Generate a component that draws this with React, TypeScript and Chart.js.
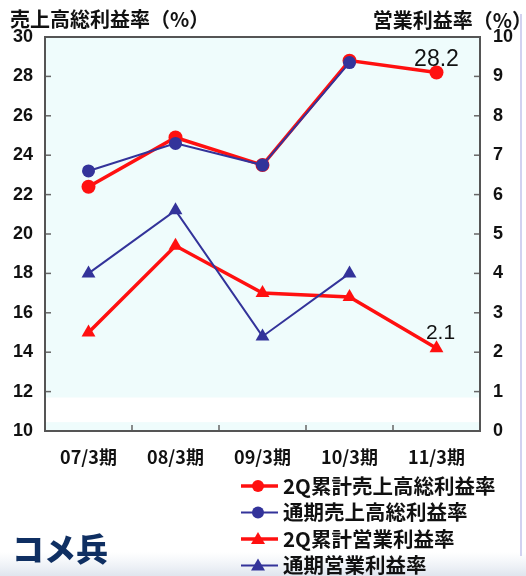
import React, { useEffect, useRef } from "react";
import { Chart, registerables } from "chart.js";

Chart.register(...registerables);

const categories = ["07/3期", "08/3期", "09/3期", "10/3期", "11/3期"];
const gross2Q = [22.4, 24.9, 23.5, 28.8, 28.2];
const grossFull = [23.2, 24.6, 23.5, 28.7, null];
const op2Q = [2.5, 4.7, 3.5, 3.4, 2.1];
const opFull = [4.0, 5.6, 2.4, 4.0, null];
const seriesNames = ["2Q累計売上高総利益率", "通期売上高総利益率", "2Q累計営業利益率", "通期営業利益率"];
const leftTitle = "売上高総利益率（%）";
const rightTitle = "営業利益率（%）";
const logoText = "コメ兵";

const RED = "#ff1010";
const BLUE = "#33339a";
const JP = '"Noto Sans CJK JP", "Noto Sans", sans-serif';
const NUM = '"Liberation Sans", Arial, sans-serif';

const decorPlugin = {
  id: "decor",
  beforeDraw(chart: any) {
    const { ctx, chartArea: a, scales } = chart;
    ctx.save();
    ctx.fillStyle = "#ffffff";
    ctx.fillRect(0, 0, chart.width, chart.height);
    const g = ctx.createLinearGradient(0, 552, 0, 576);
    g.addColorStop(0, "rgba(230,236,244,0)");
    g.addColorStop(1, "#dfe5ee");
    ctx.fillStyle = g;
    ctx.fillRect(0, 552, chart.width, 24);
    ctx.fillStyle = "#effcfc";
    ctx.fillRect(a.left, a.top, a.right - a.left, a.bottom - a.top);
    // white stripe artifact near bottom of plot
    const s0 = scales.y.getPixelForValue(11.7);
    const s1 = scales.y.getPixelForValue(10.45);
    ctx.fillStyle = "#ffffff";
    ctx.fillRect(a.left, s0, a.right - a.left, s1 - s0);
    ctx.strokeStyle = "#d2d2f0";
    ctx.lineWidth = 2;
    ctx.beginPath();
    ctx.moveTo(521, 14);
    ctx.lineTo(521, 556);
    ctx.stroke();
    ctx.restore();
  },
  beforeDatasetsDraw(chart: any) {
    const { ctx, chartArea: a, scales } = chart;
    ctx.save();
    ctx.strokeStyle = "#666";
    ctx.lineWidth = 1.5;
    const y = scales.y;
    y.ticks.forEach((_t: any, i: number) => {
      const p = y.getPixelForTick(i);
      if (p <= a.top + 1 || p >= a.bottom - 1) return;
      ctx.beginPath();
      ctx.moveTo(a.left, p);
      ctx.lineTo(a.left + 6, p);
      ctx.stroke();
    });
    const y2 = scales.y2;
    y2.ticks.forEach((_t: any, i: number) => {
      const p = y2.getPixelForTick(i);
      if (p <= a.top + 1 || p >= a.bottom - 1) return;
      ctx.beginPath();
      ctx.moveTo(a.right, p);
      ctx.lineTo(a.right - 6, p);
      ctx.stroke();
    });
    const x = scales.x;
    for (let i = 0; i < categories.length - 1; i++) {
      const p = (x.getPixelForTick(i) + x.getPixelForTick(i + 1)) / 2;
      ctx.beginPath();
      ctx.moveTo(p, a.bottom);
      ctx.lineTo(p, a.bottom - 6);
      ctx.stroke();
    }
    ctx.restore();
  },
  afterDraw(chart: any) {
    const { ctx, chartArea: a } = chart;
    ctx.save();
    ctx.strokeStyle = "#555";
    ctx.lineWidth = 2;
    ctx.strokeRect(a.left, a.top, a.right - a.left, a.bottom - a.top);
    ctx.fillStyle = "#111";
    ctx.font = `bold 20px ${JP}`;
    ctx.textBaseline = "middle";
    ctx.textAlign = "left";
    ctx.fillText(leftTitle, 10, 19);
    ctx.textAlign = "right";
    ctx.fillText(rightTitle, 532, 20);
    const m0 = chart.getDatasetMeta(0).data[4];
    const m2 = chart.getDatasetMeta(2).data[4];
    ctx.textAlign = "center";
    ctx.textBaseline = "bottom";
    ctx.fillStyle = "#111";
    ctx.font = `23px "Liberation Sans Narrow", ${NUM}`;
    ctx.fillText(String(gross2Q[4]), m0.x, m0.y - 1);
    ctx.font = `21px "Liberation Sans Narrow", ${NUM}`;
    ctx.fillText(String(op2Q[4]), m2.x + 4, m2.y - 5);
    chart.data.datasets.forEach((ds: any, i: number) => {
      const yy = 486 + i * 26.5;
      ctx.strokeStyle = ds.borderColor;
      ctx.lineWidth = ds.borderWidth;
      ctx.beginPath();
      ctx.moveTo(241, yy);
      ctx.lineTo(278, yy);
      ctx.stroke();
      ctx.fillStyle = ds.backgroundColor;
      ctx.beginPath();
      if (ds.pointStyle === "triangle") {
        ctx.moveTo(258, yy - 7);
        ctx.lineTo(265, yy + 5);
        ctx.lineTo(251, yy + 5);
        ctx.closePath();
      } else {
        ctx.arc(258, yy, 6, 0, Math.PI * 2);
      }
      ctx.fill();
      ctx.fillStyle = "#111";
      ctx.font = `bold 20.5px ${JP}`;
      ctx.textAlign = "left";
      ctx.textBaseline = "middle";
      ctx.fillText(ds.label, 283, yy);
    });
    ctx.fillStyle = "#0f2f62";
    ctx.font = `900 32px ${JP}`;
    ctx.textAlign = "left";
    ctx.textBaseline = "middle";
    ctx.fillText(logoText, 12, 549);
    ctx.restore();
  },
};

export default function App() {
  const ref = useRef<HTMLCanvasElement>(null);
  useEffect(() => {
    if (!ref.current) return;
    const chart = new Chart(ref.current, {
      type: "line",
      data: {
        labels: categories,
        datasets: [
          {
            label: seriesNames[0],
            data: gross2Q,
            yAxisID: "y",
            borderColor: RED,
            backgroundColor: RED,
            borderWidth: 3.5,
            pointStyle: "circle",
            pointRadius: 7,
            pointBorderWidth: 0,
            order: 4,
          },
          {
            label: seriesNames[1],
            data: grossFull,
            yAxisID: "y",
            borderColor: BLUE,
            backgroundColor: BLUE,
            borderWidth: 2,
            pointStyle: "circle",
            pointRadius: 6.5,
            pointBorderWidth: 0,
            order: 2,
          },
          {
            label: seriesNames[2],
            data: op2Q,
            yAxisID: "y2",
            borderColor: RED,
            backgroundColor: RED,
            borderWidth: 3.5,
            pointStyle: "triangle",
            pointRadius: 8,
            pointBorderWidth: 0,
            order: 3,
          },
          {
            label: seriesNames[3],
            data: opFull,
            yAxisID: "y2",
            borderColor: BLUE,
            backgroundColor: BLUE,
            borderWidth: 2,
            pointStyle: "triangle",
            pointRadius: 8,
            pointBorderWidth: 0,
            order: 1,
          },
        ],
      },
      options: {
        animation: false,
        responsive: false,
        devicePixelRatio: 1,
        layout: { padding: { top: 37, left: 0, right: 0, bottom: 0 } },
        plugins: { legend: { display: false }, tooltip: { enabled: false } },
        scales: {
          x: {
            offset: true,
            grid: { display: false, drawTicks: false },
            border: { display: false },
            ticks: { color: "#111", font: { family: JP, size: 18, weight: "bold" }, padding: 15, maxRotation: 0 },
            afterFit: (s: any) => { s.height = 145; },
          },
          y: {
            position: "left",
            min: 10,
            max: 30,
            ticks: { stepSize: 2, color: "#111", font: { family: NUM, size: 18, weight: "bold" }, padding: 12 },
            grid: { display: false, drawTicks: false },
            border: { display: false },
            afterFit: (s: any) => { s.width = 45; },
          },
          y2: {
            position: "right",
            min: 0,
            max: 10,
            ticks: { stepSize: 1, color: "#111", font: { family: NUM, size: 18, weight: "bold" }, padding: 13 },
            grid: { display: false, drawTicks: false },
            border: { display: false },
            afterFit: (s: any) => { s.width = 46; },
          },
        },
      },
      plugins: [decorPlugin],
    } as any);
    return () => chart.destroy();
  }, []);
  return (
    <div style={{ position: "absolute", left: 0, top: 0, width: 526, height: 576 }}>
      <canvas ref={ref} width={526} height={576} style={{ display: "block", width: 526, height: 576 }} />
    </div>
  );
}
